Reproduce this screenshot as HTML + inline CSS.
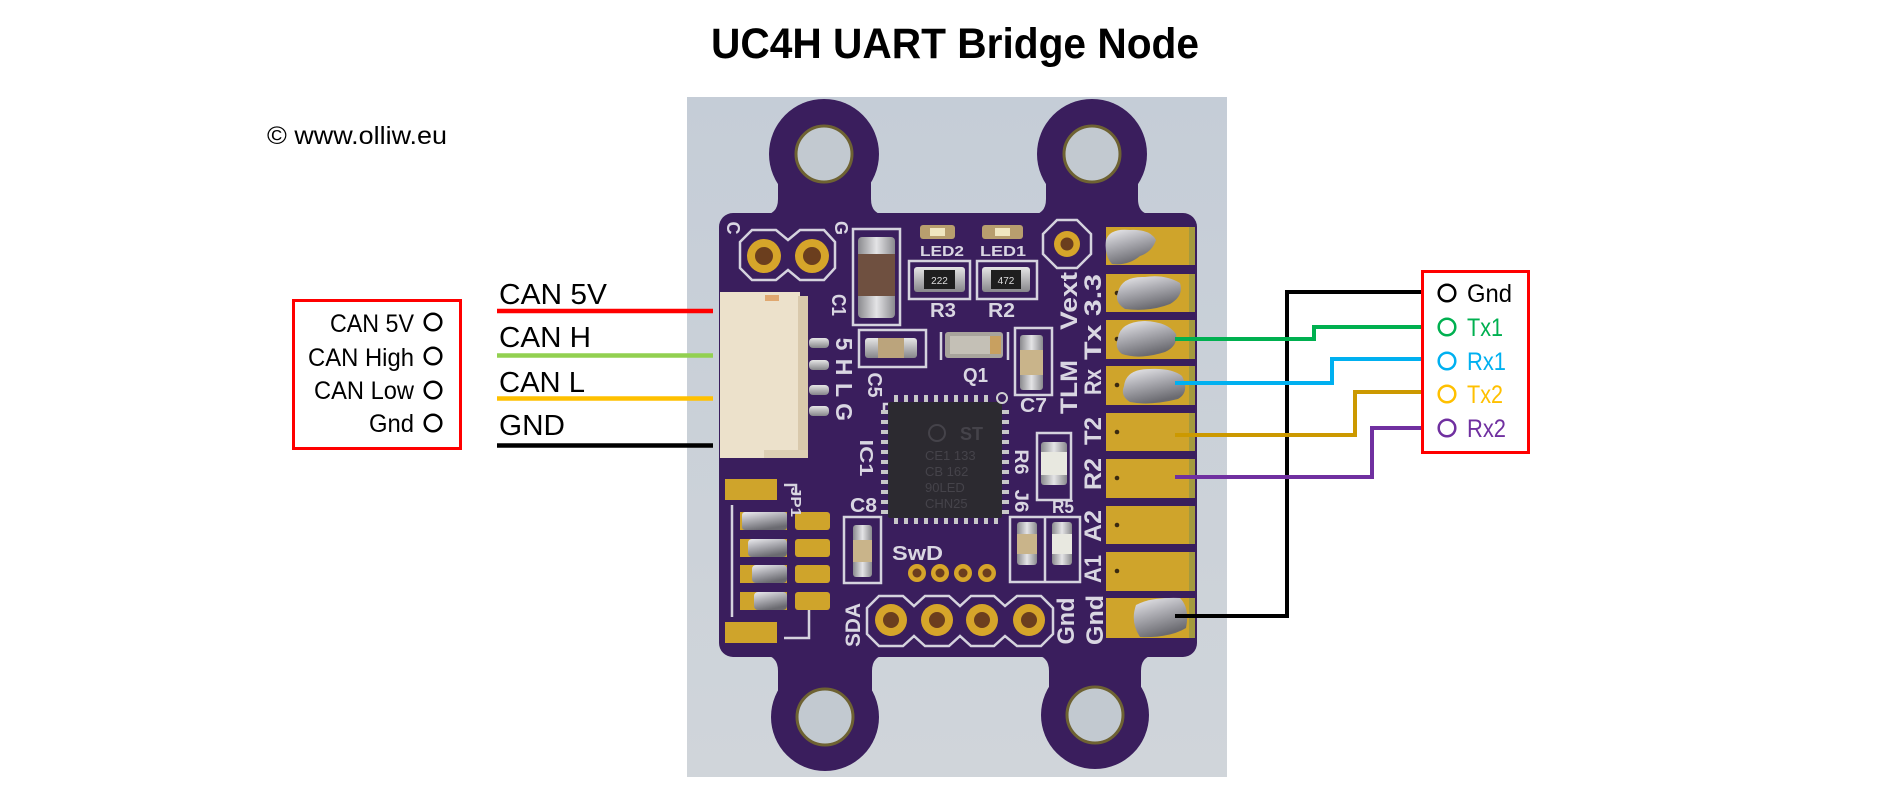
<!DOCTYPE html>
<html><head><meta charset="utf-8">
<style>
html,body{margin:0;padding:0;background:#fff;}
svg{display:block;}
text{font-family:"Liberation Sans",sans-serif;}
</style></head><body>
<svg width="1896" height="787" viewBox="0 0 1896 787" xmlns="http://www.w3.org/2000/svg">
<defs>
 <linearGradient id="bg" x1="0" y1="0" x2="0" y2="1">
  <stop offset="0" stop-color="#C5CDD7"/><stop offset="1" stop-color="#D0D5DA"/>
 </linearGradient>
 <linearGradient id="solder" x1="0" y1="0" x2="0.4" y2="1">
  <stop offset="0" stop-color="#ECECEF"/><stop offset="0.45" stop-color="#B0B0B6"/><stop offset="1" stop-color="#6A6A70"/>
 </linearGradient>
 <linearGradient id="silv" x1="0" y1="0" x2="0" y2="1">
  <stop offset="0" stop-color="#E6E6E6"/><stop offset="1" stop-color="#86868A"/>
 </linearGradient>
 <linearGradient id="silvh" x1="0" y1="0" x2="1" y2="0">
  <stop offset="0" stop-color="#8A8A8E"/><stop offset="0.5" stop-color="#E4E4E6"/><stop offset="1" stop-color="#8A8A8E"/>
 </linearGradient>
</defs>
<rect width="1896" height="787" fill="#fff"/>

<!-- Title -->
<text x="711" y="58" font-size="43" font-weight="bold" textLength="488" lengthAdjust="spacingAndGlyphs" fill="#000">UC4H UART Bridge Node</text>
<text x="267" y="144" font-size="25" textLength="180" lengthAdjust="spacingAndGlyphs" fill="#000">© www.olliw.eu</text>

<!-- Left box -->
<rect x="293.5" y="300.5" width="167" height="148" fill="none" stroke="#FF0000" stroke-width="3"/>
<g font-size="25" fill="#000" lengthAdjust="spacingAndGlyphs">
 <text x="330" y="332" textLength="84" lengthAdjust="spacingAndGlyphs">CAN 5V</text>
 <text x="308" y="366" textLength="106" lengthAdjust="spacingAndGlyphs">CAN High</text>
 <text x="314" y="399" textLength="100" lengthAdjust="spacingAndGlyphs">CAN Low</text>
 <text x="369" y="432" textLength="45" lengthAdjust="spacingAndGlyphs">Gnd</text>
</g>
<g fill="none" stroke="#000" stroke-width="2.5">
 <circle cx="433" cy="322" r="8.3"/><circle cx="433" cy="356" r="8.3"/>
 <circle cx="433" cy="390" r="8.3"/><circle cx="433" cy="423" r="8.3"/>
</g>

<!-- Left wire labels -->
<g font-size="29" fill="#000">
 <text x="499" y="304" textLength="108" lengthAdjust="spacingAndGlyphs">CAN 5V</text>
 <text x="499" y="347" textLength="92" lengthAdjust="spacingAndGlyphs">CAN H</text>
 <text x="499" y="392" textLength="86" lengthAdjust="spacingAndGlyphs">CAN L</text>
 <text x="499" y="435" textLength="66" lengthAdjust="spacingAndGlyphs">GND</text>
</g>

<!-- Photo background -->
<rect x="687" y="97" width="540" height="680" fill="url(#bg)"/>

<!-- Board -->
<g fill="#3A1E5D">
 <circle cx="824" cy="154" r="55"/>
 <path d="M762 215 Q778 215 778 199 L778 150 L871 150 L871 199 Q871 215 887 215 Z"/>
 <circle cx="1092" cy="154" r="55"/>
 <path d="M1030 215 Q1046 215 1046 199 L1046 150 L1138 150 L1138 199 Q1138 215 1154 215 Z"/>
 <circle cx="825" cy="717" r="54"/>
 <path d="M762 655 Q778 655 778 671 L778 717 L872 717 L872 671 Q872 655 888 655 Z"/>
 <circle cx="1095" cy="715" r="54"/>
 <path d="M1033 655 Q1049 655 1049 671 L1049 715 L1141 715 L1141 671 Q1141 655 1157 655 Z"/>
 <rect x="719" y="213" width="478" height="444" rx="14"/>
</g>
<!-- lug holes -->
<g fill="#C2C9D0" stroke="#6E6232" stroke-width="3">
 <circle cx="824" cy="154" r="28"/><circle cx="1092" cy="154" r="28"/>
 <circle cx="825" cy="717" r="28"/><circle cx="1095" cy="715" r="28"/>
</g>

<!-- silk outlines -->
<g fill="none" stroke="#D5D3DE" stroke-width="2.5">
 <path d="M752 230 L776 230 L788 240 L800 230 L824 230 L835 242 L835 268 L824 280 L800 280 L788 270 L776 280 L752 280 L740 268 L740 242 Z"/>
 <rect x="853" y="229" width="47" height="96"/>
 <rect x="909" y="261" width="61" height="38"/>
 <rect x="977" y="261" width="60" height="38"/>
 <rect x="859" y="330" width="67" height="37"/>
 <line x1="941" y1="332" x2="941" y2="360"/><line x1="1008" y1="332" x2="1008" y2="360"/>
 <rect x="1015" y="328" width="37" height="67"/>
 <path d="M1057 220 L1077 220 L1091 234 L1091 254 L1077 268 L1057 268 L1043 254 L1043 234 Z"/>
 <rect x="1037" y="433" width="34" height="67"/>
 <rect x="1010" y="517" width="70" height="65"/><line x1="1045" y1="517" x2="1045" y2="582"/>
 <rect x="844" y="517" width="37" height="66"/>
 <line x1="732" y1="505" x2="732" y2="617"/>
 <path d="M784 485 L796 485 L796 494"/>
 <path d="M809 610 L809 638 L784 638"/>
 <path d="M867 608 L879 596 L903 596 L914 606 L925 596 L949 596 L960 606 L971 596 L994 596 L1005 606 L1017 596 L1041 596 L1053 608 L1053 634 L1041 646 L1017 646 L1005 636 L994 646 L971 646 L960 636 L949 646 L925 646 L914 636 L903 646 L879 646 L867 634 Z"/>
 <path d="M884 412 L884 404 L892 404"/>
</g>

<!-- right pads -->
<g>
 <g fill="#CFA42B">
  <rect x="1106" y="227" width="89" height="38"/><rect x="1106" y="274" width="89" height="38"/>
  <rect x="1106" y="320" width="89" height="39"/><rect x="1106" y="366" width="89" height="39"/>
  <rect x="1106" y="413" width="89" height="38"/><rect x="1106" y="459" width="89" height="39"/>
  <rect x="1106" y="506" width="89" height="38"/><rect x="1106" y="552" width="89" height="39"/>
  <rect x="1106" y="598" width="89" height="40"/>
 </g>
 <g fill="#A39A3E">
  <rect x="1189" y="227" width="6" height="38"/><rect x="1189" y="274" width="6" height="38"/>
  <rect x="1189" y="320" width="6" height="39"/><rect x="1189" y="366" width="6" height="39"/>
  <rect x="1189" y="413" width="6" height="38"/><rect x="1189" y="459" width="6" height="39"/>
  <rect x="1189" y="506" width="6" height="38"/><rect x="1189" y="552" width="6" height="39"/>
  <rect x="1189" y="598" width="6" height="40"/>
 </g>
 <g fill="#3A2A10">
  <circle cx="1117" cy="293" r="2.3"/><circle cx="1117" cy="339" r="2.3"/><circle cx="1117" cy="385" r="2.3"/>
  <circle cx="1117" cy="432" r="2.3"/><circle cx="1117" cy="478" r="2.3"/><circle cx="1117" cy="525" r="2.3"/>
  <circle cx="1117" cy="571" r="2.3"/>
 </g>
 <g fill="url(#solder)">
  <path d="M1106 240 Q1110 228 1130 230 Q1150 229 1156 240 Q1152 252 1140 256 Q1128 266 1112 264 Q1104 255 1106 240 Z"/>
  <path d="M1118 292 Q1122 276 1145 277 Q1165 274 1180 283 Q1184 296 1170 304 Q1150 312 1125 309 Q1114 302 1118 292 Z"/>
  <path d="M1118 338 Q1120 322 1145 321 Q1168 322 1176 334 Q1178 346 1165 352 Q1140 360 1122 354 Q1114 348 1118 338 Z"/>
  <path d="M1124 386 Q1126 369 1150 369 Q1172 368 1182 376 Q1190 392 1178 399 Q1150 406 1130 402 Q1120 396 1124 386 Z"/>
  <path d="M1136 605 Q1150 597 1180 598 Q1190 608 1186 628 Q1170 638 1140 637 Q1130 622 1136 605 Z"/>
 </g>
</g>

<!-- through holes -->
<g fill="#D6A52A">
 <circle cx="764" cy="256" r="17"/><circle cx="812" cy="256" r="17"/>
 <circle cx="1067" cy="244" r="13"/>
 <circle cx="917" cy="573" r="9"/><circle cx="940" cy="573" r="9"/><circle cx="963" cy="573" r="9"/><circle cx="987" cy="573" r="9"/>
 <circle cx="891" cy="620" r="16"/><circle cx="937" cy="620" r="16"/><circle cx="982" cy="620" r="16"/><circle cx="1029" cy="620" r="16"/>
</g>
<g fill="#6B3E1E">
 <circle cx="764" cy="256" r="9"/><circle cx="812" cy="256" r="9"/>
 <circle cx="1067" cy="244" r="6.5"/>
 <circle cx="917" cy="573" r="4.5"/><circle cx="940" cy="573" r="4.5"/><circle cx="963" cy="573" r="4.5"/><circle cx="987" cy="573" r="4.5"/>
 <circle cx="891" cy="620" r="8"/><circle cx="937" cy="620" r="8"/><circle cx="982" cy="620" r="8"/><circle cx="1029" cy="620" r="8"/>
</g>

<!-- left pads / JP1 -->
<g fill="#CFA42B">
 <rect x="725" y="479" width="52" height="21"/><rect x="725" y="622" width="52" height="21"/>
 <rect x="795" y="512" width="35" height="18" rx="3"/><rect x="795" y="539" width="35" height="18" rx="3"/>
 <rect x="795" y="565" width="35" height="18" rx="3"/><rect x="795" y="592" width="35" height="18" rx="3"/>
 <rect x="740" y="512" width="47" height="18"/><rect x="740" y="539" width="47" height="18"/>
 <rect x="740" y="565" width="47" height="18"/><rect x="740" y="592" width="47" height="18"/>
</g>
<g fill="url(#solder)">
 <rect x="742" y="512" width="45" height="18" rx="3"/>
 <rect x="748" y="539" width="39" height="18" rx="4"/>
 <rect x="752" y="565" width="35" height="18" rx="4"/>
 <rect x="754" y="592" width="33" height="18" rx="4"/>
</g>

<!-- connector -->
<rect x="720" y="292" width="80" height="166" fill="#ECE1CB"/>
<rect x="798" y="296" width="10" height="160" fill="#D9C9AC"/>
<rect x="765" y="295" width="14" height="6" fill="#E0A870"/>
<rect x="764" y="450" width="44" height="8" fill="#DDCFB4"/>
<g fill="url(#silv)">
 <rect x="809" y="338" width="20" height="10" rx="4"/><rect x="809" y="360" width="20" height="10" rx="4"/>
 <rect x="809" y="385" width="20" height="10" rx="4"/><rect x="809" y="406" width="20" height="10" rx="4"/>
</g>

<!-- components -->
<rect x="920" y="225" width="35" height="14" rx="3" fill="#B89E6E"/><rect x="930" y="228" width="15" height="8" fill="#F0E6C0"/>
<rect x="982" y="225" width="41" height="14" rx="3" fill="#B89E6E"/><rect x="995" y="228" width="15" height="8" fill="#F0E6C0"/>
<rect x="914" y="267" width="51" height="25" rx="3" fill="url(#silv)"/><rect x="924" y="270" width="31" height="19" fill="#1E1E1E"/>
<text x="939.5" y="284" font-size="10" fill="#ddd" text-anchor="middle">222</text>
<rect x="982" y="267" width="48" height="25" rx="3" fill="url(#silv)"/><rect x="991" y="270" width="30" height="19" fill="#1E1E1E"/>
<text x="1006" y="284" font-size="10" fill="#ddd" text-anchor="middle">472</text>
<rect x="858" y="237" width="37" height="81" rx="4" fill="url(#silvh)"/><rect x="858" y="254" width="37" height="42" fill="#6F5040"/>
<rect x="865" y="338" width="52" height="20" rx="3" fill="url(#silv)"/><rect x="878" y="338" width="26" height="20" fill="#BBA47C"/>
<rect x="945" y="332" width="58" height="26" rx="3" fill="#A8A49C"/><rect x="950" y="336" width="40" height="18" fill="#C4C0B6"/><rect x="990" y="336" width="11" height="18" fill="#C8A060"/>
<rect x="1020" y="335" width="23" height="55" rx="3" fill="url(#silvh)"/><rect x="1020" y="350" width="23" height="25" fill="#C9B48A"/>
<rect x="853" y="525" width="19" height="52" rx="3" fill="url(#silvh)"/><rect x="853" y="540" width="19" height="22" fill="#C9B48A"/>
<rect x="1041" y="442" width="26" height="43" rx="3" fill="url(#silvh)"/><rect x="1041" y="452" width="26" height="23" fill="#E8E8E0"/>
<rect x="1017" y="522" width="20" height="43" rx="3" fill="url(#silvh)"/><rect x="1017" y="534" width="20" height="20" fill="#C9B48A"/>
<rect x="1052" y="522" width="20" height="43" rx="3" fill="url(#silvh)"/><rect x="1052" y="534" width="20" height="20" fill="#E8E8E0"/>

<!-- IC -->
<g fill="#C8C8C8">
 <rect x="894" y="395" width="4" height="7"/><rect x="904" y="395" width="4" height="7"/><rect x="914" y="395" width="4" height="7"/>
 <rect x="924" y="395" width="4" height="7"/><rect x="934" y="395" width="4" height="7"/><rect x="944" y="395" width="4" height="7"/>
 <rect x="954" y="395" width="4" height="7"/><rect x="964" y="395" width="4" height="7"/><rect x="974" y="395" width="4" height="7"/>
 <rect x="984" y="395" width="4" height="7"/>
 <rect x="894" y="518" width="4" height="6"/><rect x="904" y="518" width="4" height="6"/><rect x="914" y="518" width="4" height="6"/>
 <rect x="924" y="518" width="4" height="6"/><rect x="934" y="518" width="4" height="6"/><rect x="944" y="518" width="4" height="6"/>
 <rect x="954" y="518" width="4" height="6"/><rect x="964" y="518" width="4" height="6"/><rect x="974" y="518" width="4" height="6"/>
 <rect x="984" y="518" width="4" height="6"/><rect x="994" y="518" width="4" height="6"/>
 <rect x="881" y="410" width="7" height="4"/><rect x="881" y="420" width="7" height="4"/><rect x="881" y="430" width="7" height="4"/>
 <rect x="881" y="440" width="7" height="4"/><rect x="881" y="450" width="7" height="4"/><rect x="881" y="460" width="7" height="4"/>
 <rect x="881" y="470" width="7" height="4"/><rect x="881" y="480" width="7" height="4"/><rect x="881" y="490" width="7" height="4"/>
 <rect x="881" y="500" width="7" height="4"/><rect x="881" y="510" width="7" height="4"/>
 <rect x="1002" y="410" width="7" height="4"/><rect x="1002" y="420" width="7" height="4"/><rect x="1002" y="430" width="7" height="4"/>
 <rect x="1002" y="440" width="7" height="4"/><rect x="1002" y="450" width="7" height="4"/><rect x="1002" y="460" width="7" height="4"/>
 <rect x="1002" y="470" width="7" height="4"/><rect x="1002" y="480" width="7" height="4"/><rect x="1002" y="490" width="7" height="4"/>
 <rect x="1002" y="500" width="7" height="4"/><rect x="1002" y="510" width="7" height="4"/>
</g>
<rect x="888" y="402" width="114" height="116" rx="2" fill="#2C2A30"/>
<circle cx="1002" cy="398" r="5" fill="none" stroke="#D0D0D0" stroke-width="2"/>
<g fill="#45434A" font-size="13">
 <circle cx="937" cy="433" r="8" fill="none" stroke="#45434A" stroke-width="2"/>
 <text x="960" y="440" font-weight="bold" font-size="18">ST</text>
 <text x="925" y="460">CE1 133</text>
 <text x="925" y="476">CB 162</text>
 <text x="925" y="492">90LED</text>
 <text x="925" y="508">CHN25</text>
</g>

<!-- silk text horizontal -->
<g fill="#D9D6E2" font-weight="bold">
 <text x="920" y="256" font-size="15" textLength="44" lengthAdjust="spacingAndGlyphs">LED2</text>
 <text x="980" y="256" font-size="15" textLength="46" lengthAdjust="spacingAndGlyphs">LED1</text>
 <text x="930" y="317" font-size="20" textLength="26" lengthAdjust="spacingAndGlyphs">R3</text>
 <text x="988" y="317" font-size="20" textLength="27" lengthAdjust="spacingAndGlyphs">R2</text>
 <text x="963" y="382" font-size="20" textLength="25" lengthAdjust="spacingAndGlyphs">Q1</text>
 <text x="1020" y="412" font-size="20" textLength="27" lengthAdjust="spacingAndGlyphs">C7</text>
 <text x="850" y="512" font-size="20" textLength="27" lengthAdjust="spacingAndGlyphs">C8</text>
 <text x="892" y="560" font-size="20" textLength="51" lengthAdjust="spacingAndGlyphs">SwD</text>
 <text x="1052" y="513" font-size="18" textLength="22" lengthAdjust="spacingAndGlyphs">R5</text>
</g>
<!-- silk text rotated 90 (top to bottom) -->
<g fill="#D9D6E2" font-weight="bold" text-anchor="middle">
 <text transform="translate(727,228) rotate(90)" font-size="18">C</text>
 <text transform="translate(835,228) rotate(90)" font-size="18">G</text>
 <text transform="translate(832,305) rotate(90)" font-size="20" textLength="22" lengthAdjust="spacingAndGlyphs">C1</text>
 <text transform="translate(836,344) rotate(90)" font-size="23">5</text>
 <text transform="translate(836,367) rotate(90)" font-size="23">H</text>
 <text transform="translate(836,390) rotate(90)" font-size="23">L</text>
 <text transform="translate(836,412) rotate(90)" font-size="23">G</text>
 <text transform="translate(868,385) rotate(90)" font-size="20" textLength="25" lengthAdjust="spacingAndGlyphs">C5</text>
 <text transform="translate(860,458) rotate(90)" font-size="18" textLength="37" lengthAdjust="spacingAndGlyphs">IC1</text>
 <text transform="translate(791,502) rotate(90)" font-size="15" textLength="30" lengthAdjust="spacingAndGlyphs">JP1</text>
 <text transform="translate(1015,462) rotate(90)" font-size="19" textLength="25" lengthAdjust="spacingAndGlyphs">R6</text>
 <text transform="translate(1015,501) rotate(90)" font-size="19" textLength="23" lengthAdjust="spacingAndGlyphs">J6</text>
</g>
<!-- silk text rotated -90 (bottom to top) -->
<g fill="#D9D6E2" font-weight="bold" text-anchor="middle" font-size="24">
 <text transform="translate(860,625) rotate(-90)" font-size="21" textLength="44" lengthAdjust="spacingAndGlyphs">SDA</text>
 <text transform="translate(1077,301) rotate(-90)" textLength="58" lengthAdjust="spacingAndGlyphs">Vext</text>
 <text transform="translate(1101,317) rotate(-90)" textLength="86" lengthAdjust="spacingAndGlyphs">Tx 3.3</text>
 <text transform="translate(1077,387) rotate(-90)" textLength="54" lengthAdjust="spacingAndGlyphs">TLM</text>
 <text transform="translate(1101,382) rotate(-90)" textLength="26" lengthAdjust="spacingAndGlyphs">Rx</text>
 <text transform="translate(1101,431) rotate(-90)" textLength="28" lengthAdjust="spacingAndGlyphs">T2</text>
 <text transform="translate(1101,474) rotate(-90)" textLength="32" lengthAdjust="spacingAndGlyphs">R2</text>
 <text transform="translate(1101,526) rotate(-90)" textLength="32" lengthAdjust="spacingAndGlyphs">A2</text>
 <text transform="translate(1101,569) rotate(-90)" textLength="28" lengthAdjust="spacingAndGlyphs">A1</text>
 <text transform="translate(1103,620) rotate(-90)" textLength="50" lengthAdjust="spacingAndGlyphs">Gnd</text>
 <text transform="translate(1074,621) rotate(-90)" textLength="47" lengthAdjust="spacingAndGlyphs">Gnd</text>
</g>

<!-- left wires -->
<g stroke-width="4.5">
 <line x1="497" y1="311" x2="713" y2="311" stroke="#FF0000"/>
 <line x1="497" y1="355.5" x2="713" y2="355.5" stroke="#92D050"/>
 <line x1="497" y1="398.5" x2="713" y2="398.5" stroke="#FFC000"/>
 <line x1="497" y1="445.5" x2="713" y2="445.5" stroke="#000000"/>
</g>

<!-- right wires -->
<g fill="none" stroke-width="4" stroke-linejoin="miter">
 <polyline points="1175,616 1287,616 1287,292 1421,292" stroke="#000000"/>
 <polyline points="1175,339 1314,339 1314,327 1421,327" stroke="#00B050"/>
 <polyline points="1175,383 1332,383 1332,359 1421,359" stroke="#00B0F0"/>
 <polyline points="1175,435 1355,435 1355,392 1421,392" stroke="#CC9900"/>
 <polyline points="1175,477 1372,477 1372,428 1421,428" stroke="#7030A0"/>
</g>

<!-- right box -->
<rect x="1422.5" y="271.5" width="106" height="181" fill="none" stroke="#FF0000" stroke-width="3"/>
<g fill="none" stroke-width="2.5">
 <circle cx="1447" cy="293" r="8.3" stroke="#000"/>
 <circle cx="1447" cy="327" r="8.3" stroke="#00B050"/>
 <circle cx="1447" cy="361" r="8.3" stroke="#00B0F0"/>
 <circle cx="1447" cy="394" r="8.3" stroke="#FFC000"/>
 <circle cx="1447" cy="428" r="8.3" stroke="#7030A0"/>
</g>
<g font-size="25">
 <text x="1467" y="302" fill="#000" textLength="45" lengthAdjust="spacingAndGlyphs">Gnd</text>
 <text x="1467" y="336" fill="#00B050" textLength="36" lengthAdjust="spacingAndGlyphs">Tx1</text>
 <text x="1467" y="370" fill="#00B0F0" textLength="39" lengthAdjust="spacingAndGlyphs">Rx1</text>
 <text x="1467" y="403" fill="#FFC000" textLength="36" lengthAdjust="spacingAndGlyphs">Tx2</text>
 <text x="1467" y="437" fill="#7030A0" textLength="39" lengthAdjust="spacingAndGlyphs">Rx2</text>
</g>
</svg>
</body></html>
